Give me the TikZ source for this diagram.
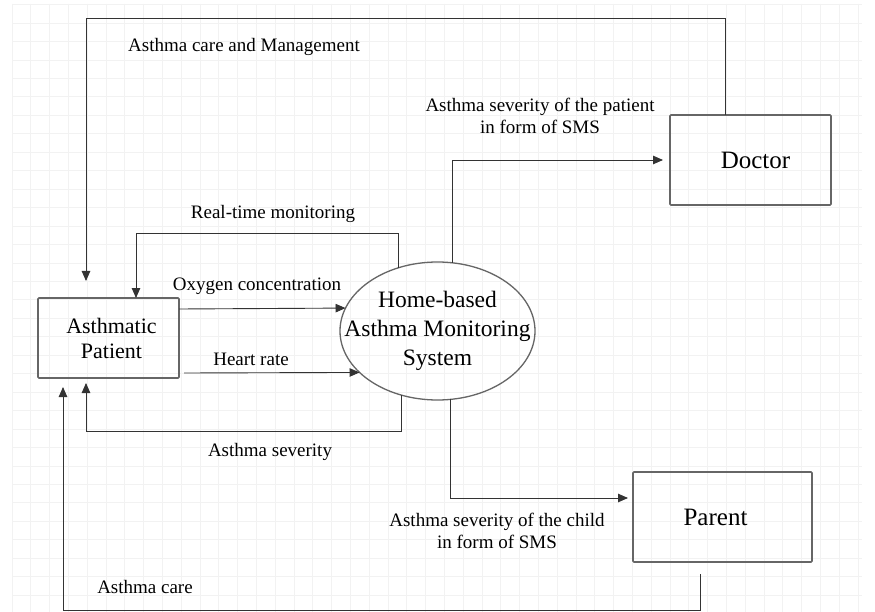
\documentclass[tikz,border=0pt]{standalone}
\usepackage{fontspec}
\setmainfont{Liberation Serif}
\usetikzlibrary{arrows.meta,shapes.geometric}
\begin{document}
\begin{tikzpicture}[x=1pt,y=-1pt,
  gridline/.style={draw=black!5, line width=0.9pt},
  entity/.style={draw=black!60, line width=1.6pt, rounded corners=1pt,
    inner sep=0pt, outer sep=0pt},
  flow/.style={draw=black!80, line width=0.9pt,
    -{Triangle[length=10pt,width=8.5pt]}},
  lbl/.style={font=\fontsize{19}{22}\selectfont, align=center, inner sep=0pt}]

\useasboundingbox (0,0) rectangle (875,612);
\fill[white] (0,0) rectangle (875,612);

% background grid
\foreach \i in {0,...,45} {
  \draw[gridline] ({12+18.8*\i},4) -- ({12+18.8*\i},612);
}
\foreach \j in {0,...,32} {
  \draw[gridline] (12,{4.7+18.45*\j}) -- (862,{4.7+18.45*\j});
}

% entities and process
\node[entity, minimum width=141pt, minimum height=80pt] (pat) at (108.5,338) {};
\node[align=center, inner sep=0pt, font=\fontsize{22}{25}\selectfont]
  (pattext) at ([xshift=3pt]pat.center) {Asthmatic\\Patient};
\node[entity, minimum width=161pt, minimum height=90pt] (doc) at (750.5,160) {};
\node[inner sep=0pt, font=\fontsize{25}{28}\selectfont]
  (doctext) at ([xshift=5pt]doc.center) {Doctor};
\node[entity, minimum width=179pt, minimum height=90pt] (par) at (722.5,517) {};
\node[inner sep=0pt, font=\fontsize{25}{28}\selectfont]
  (partext) at ([xshift=-7pt]par.center) {Parent};
\node[ellipse, draw=black!60, line width=1.3pt, minimum width=195pt,
  minimum height=138pt, inner sep=0pt, outer sep=0pt] (ems) at (437.5,331) {};
\node[align=center, inner sep=0pt, font=\fontsize{23.5}{29}\selectfont]
  (emstext) at (ems.center) {Home-based\\Asthma Monitoring\\System};

% bend points
\coordinate (mgmt) at (86,18);
\coordinate (rtm) at (136,233);
\coordinate (sev) at (86,431);
\coordinate (care) at (63,610);

% data flows
\draw[flow] ([xshift=-25.5pt]doc.north) |- (mgmt)
  -- ([xshift=-22.5pt,yshift=17pt]pat.north);
\draw[flow] (ems.122.8) |- (rtm) -- ([xshift=27.5pt]pat.north);
\draw[flow] ([yshift=29pt]pat.east) -- (ems.166.6);
\draw[flow] ([xshift=5pt,yshift=-35pt]pat.east) -- (ems.208.5);
\draw[flow] (ems.241.9) |- (sev) -- ([xshift=-22.5pt,yshift=-5pt]pat.south);
\draw[flow] (ems.78.8) |- ([xshift=-7pt]doc.west);
\draw[flow] (ems.281.2) |- ([xshift=-5pt,yshift=19pt]par.west);
\draw[flow] ([xshift=-22.5pt,yshift=-12pt]par.south) |- (care)
  -- ([xshift=-45.5pt,yshift=-9pt]pat.south);

% flow labels
\node[lbl] (l1) at (244,47) {Asthma care and Management};
\node[lbl] (l2) at (273,214) {Real-time monitoring};
\node[lbl] (l3) at (257,286) {Oxygen concentration};
\node[lbl] (l4) at (251,359) {Heart rate};
\node[lbl] (l5) at (270,452) {Asthma severity};
\node[lbl] (l6) at (540,116) {Asthma severity of the patient\\in form of SMS};
\node[lbl] (l7) at (497,531) {Asthma severity of the child\\in form of SMS};
\node[lbl] (l8) at (145,587) {Asthma care};
\end{tikzpicture}
\end{document}
